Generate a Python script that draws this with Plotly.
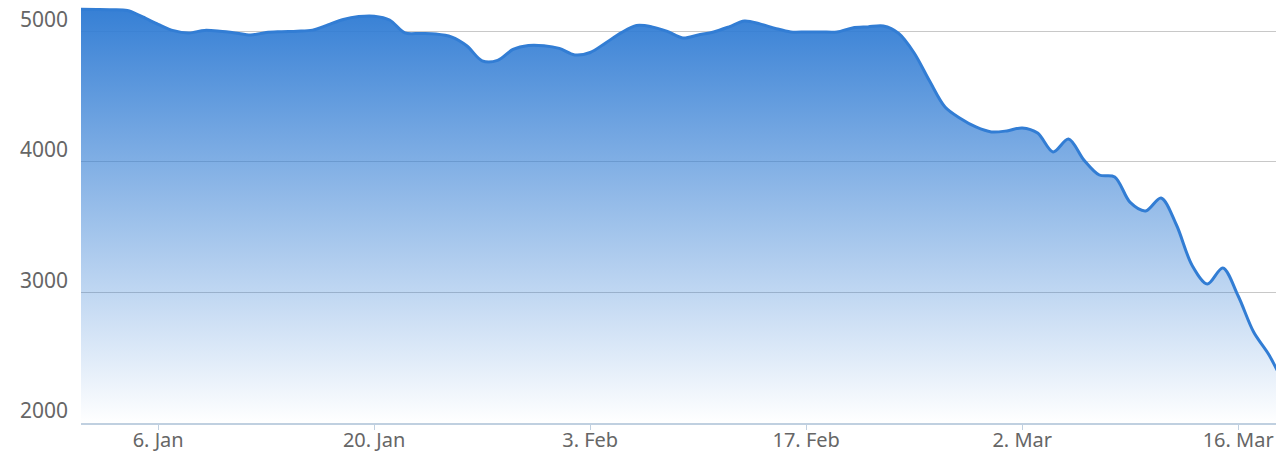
import plotly.graph_objects as go
import pandas as pd

# ----------------Dati (valori giornalieri dal 1 gennaio 2020)
START_DATE = "2020-01-01"
values = [
    5170, 5169, 5167, 5161, 5111, 5055, 5006, 4989, 5008, 5002,
    4989, 4973, 4992, 4998, 5002, 5010, 5050, 5092, 5114, 5117,
    5088, 4989, 4985, 4981, 4959, 4891, 4775, 4778, 4862, 4893,
    4891, 4870, 4820, 4839, 4912, 4989, 5045, 5035, 5000, 4950,
    4973, 4996, 5035, 5080, 5058, 5023, 4996, 4996, 4996, 4996,
    5027, 5035, 5042, 4985, 4835, 4620, 4421, 4333, 4268, 4230,
    4238, 4261, 4222, 4077, 4176, 4015, 3900, 3885, 3690, 3625,
    3724, 3517, 3211, 3065, 3188, 2973, 2697, 2521, 2290,
]
dates = pd.date_range(START_DATE, periods=len(values), freq="D")

y_ticks = [2000, 3000, 4000, 5000]
x_range = ["2020-01-01", "2020-03-18 10:48"]
y_range = [2000, 5241]

BLUE = "rgb(50,125,212)"
FONT = dict(family="Noto Sans, Open Sans, sans-serif", size=21, color="#666666")
XFONT = dict(FONT, size=20)

fig = go.Figure()
fig.add_trace(go.Scatter(
    x=dates,
    y=values,
    mode="lines",
    line=dict(color=BLUE, width=3, shape="spline", smoothing=0.9),
    fill="tozeroy",
    fillgradient=dict(
        type="vertical",
        start=y_range[0],
        stop=y_range[1],
        colorscale=[[0, "rgba(50,125,212,0)"], [1, "rgba(50,125,212,1)"]],
    ),
    hoverinfo="x+y",
    showlegend=False,
))

fig.update_layout(
    width=1276,
    height=453,
    margin=dict(l=81, r=0, t=0, b=30),
    paper_bgcolor="white",
    plot_bgcolor="white",
    font=FONT,
    xaxis=dict(
        type="date",
        range=x_range,
        automargin=False,
        tick0="2020-01-06",
        dtick=14 * 86400000,
        tickformat="%-d. %b",
        showgrid=False,
        showline=True,
        linecolor="#c0d0e0",
        linewidth=2,
        ticks="outside",
        ticklen=5,
        tickcolor="#c0d0e0",
        ticklabelstandoff=-7,
        tickfont=XFONT,
        zeroline=False,
    ),
    yaxis=dict(
        range=y_range,
        automargin=False,
        tickvals=y_ticks,
        showgrid=True,
        gridcolor="#c8c8c8",
        gridwidth=1,
        showline=False,
        zeroline=False,
        ticks="",
        ticklabelstandoff=12,
        ticklabelshift=-12,
        tickfont=FONT,
    ),
)

# margine del body a zero, cosi il grafico parte dall'angolo della pagina
fig.write_html(
    "out.html",
    config={"displayModeBar": False},
    post_script="document.body.style.margin='0px';",
)
